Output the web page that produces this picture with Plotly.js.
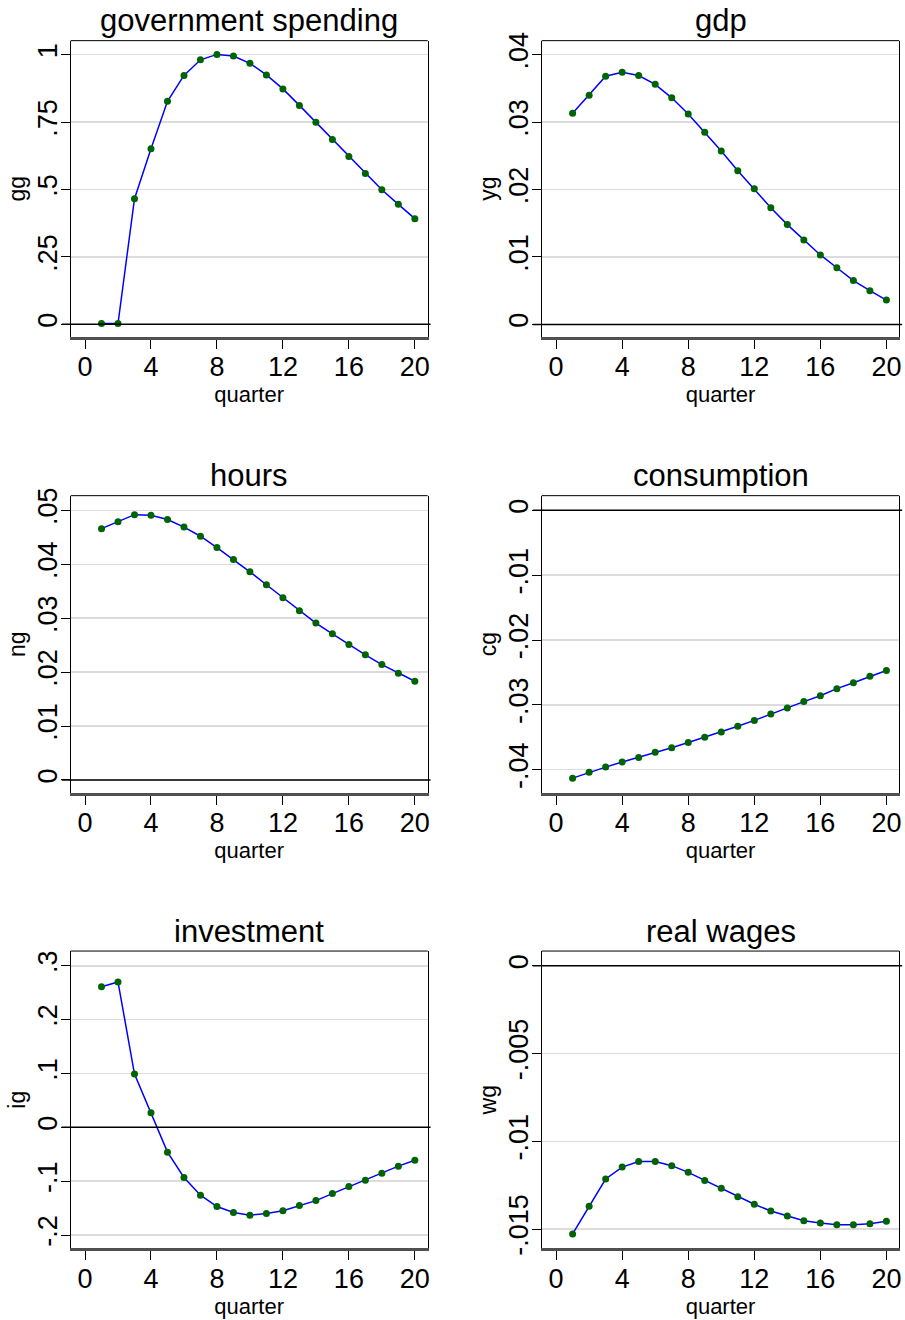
<!DOCTYPE html>
<html>
<head>
<meta charset="utf-8">
<script src="https://cdn.plot.ly/plotly-3.0.1.min.js"></script>
<style>body{margin:0;background:#fff}</style>
</head>
<body>
<div id="irf" style="width:905px;height:1320px"></div>
<script>
// impulse responses to a government spending shock, quarters 1-20
var quarter = [1,2,3,4,5,6,7,8,9,10,11,12,13,14,15,16,17,18,19,20];

var gg = [0.003,0.003,0.466,0.651,0.827,0.923,0.981,1.001,0.995,0.968,0.925,0.873,0.812,0.749,0.685,0.622,0.559,0.499,0.445,0.392];
var yg = [0.0313,0.0340,0.0368,0.0374,0.0369,0.0356,0.0336,0.0312,0.0285,0.0257,0.0228,0.0201,0.0173,0.0148,0.0125,0.0103,0.0084,0.0065,0.0050,0.0036];
var ng = [0.0466,0.0479,0.0492,0.0491,0.0483,0.0469,0.0452,0.0431,0.0409,0.0386,0.0362,0.0338,0.0314,0.0291,0.0271,0.0251,0.0232,0.0214,0.0198,0.0183];
var cg = [-0.0413,-0.0404,-0.0396,-0.0388,-0.0381,-0.0373,-0.0366,-0.0358,-0.0350,-0.0342,-0.0333,-0.0324,-0.0314,-0.0305,-0.0295,-0.0286,-0.0275,-0.0266,-0.0256,-0.0247];
var ig = [0.261,0.270,0.099,0.027,-0.046,-0.093,-0.126,-0.147,-0.158,-0.163,-0.160,-0.155,-0.145,-0.136,-0.123,-0.110,-0.098,-0.085,-0.072,-0.061];
var wg = [-0.01528,-0.01371,-0.01215,-0.01147,-0.01115,-0.01116,-0.01139,-0.01177,-0.01223,-0.01268,-0.01316,-0.01359,-0.01397,-0.01426,-0.01453,-0.01466,-0.01475,-0.01475,-0.01470,-0.01456];

var titles = ['government spending','gdp','hours','consumption','investment','real wages'];
var ynames = ['gg','yg','ng','cg','ig','wg'];
var series = [gg, yg, ng, cg, ig, wg];

var xticks = [0,4,8,12,16,20];
var yticks = [
  [0,0.25,0.5,0.75,1],
  [0,0.01,0.02,0.03,0.04],
  [0,0.01,0.02,0.03,0.04,0.05],
  [-0.04,-0.03,-0.02,-0.01,0],
  [-0.2,-0.1,0,0.1,0.2,0.3],
  [-0.015,-0.01,-0.005,0]
];
var ylabels = [
  ['0','.25','.5','.75','1'],
  ['0','.01','.02','.03','.04'],
  ['0','.01','.02','.03','.04','.05'],
  ['-.04','-.03','-.02','-.01','0'],
  ['-.2','-.1','0','.1','.2','.3'],
  ['-.015','-.01','-.005','0']
];
var yranges = [[-0.046,1.052],[-0.00183,0.04208],[-0.00235,0.05272],[-0.04354,0.00226],[-0.2246,0.3273],[-0.0161,0.000835]];

var colDom = [[0.0781,0.4726],[0.5986,0.9937]];
var rowDom = [[0.7449,0.9692],[0.3995,0.6245],[0.0543,0.2795]];

var font = 'Liberation Sans, Arial, sans-serif';
var data = [];
var layout = {
  width: 905, height: 1320,
  margin: {l:0, r:0, t:0, b:0},
  paper_bgcolor: '#ffffff',
  plot_bgcolor: '#ffffff',
  showlegend: false,
  font: {family: font, color: '#000000'},
  annotations: [],
  shapes: []
};

for (var i = 0; i < 6; i++) {
  var n = i + 1;
  var xa = 'x' + (n == 1 ? '' : n), ya = 'y' + (n == 1 ? '' : n);
  data.push({
    x: quarter, y: series[i], xaxis: xa, yaxis: ya,
    type: 'scatter', mode: 'lines+markers',
    line: {color: '#0000ff', width: 1.5},
    marker: {color: '#006400', size: 7}
  });
  layout['xaxis' + (n == 1 ? '' : n)] = {
    domain: colDom[i % 2], anchor: ya,
    range: [-0.87, 20.78],
    tickvals: xticks, ticks: 'outside', ticklen: 9, tickcolor: '#000',
    tickfont: {size: 27, family: font}, ticklabelstandoff: -5,
    showgrid: false, zeroline: false,
    showline: true, linecolor: '#505050', linewidth: 3,
    title: {text: 'quarter', font: {size: 22, family: font}, standoff: 0}
  };
  layout['yaxis' + (n == 1 ? '' : n)] = {
    domain: rowDom[Math.floor(i / 2)], anchor: xa,
    range: yranges[i],
    tickvals: yticks[i], ticktext: ylabels[i], tickangle: -90,
    ticks: 'outside', ticklen: 9, tickcolor: '#000',
    tickfont: {size: 27, family: font}, ticklabelstandoff: -7,
    showgrid: true, gridcolor: '#dcdcdc', gridwidth: 1.5, zeroline: false,
    showline: true, linecolor: '#000', linewidth: 1, mirror: true,
    title: {text: ynames[i], font: {size: 23, family: font}, standoff: 0}
  };
  // box top edge
  layout.shapes.push({type: 'line', xref: xa + ' domain', yref: ya + ' domain',
    x0: 0, x1: 1, y0: 1, y1: 1, line: {color: '#000', width: 1}});
  // zero reference line
  layout.shapes.push({type: 'line', xref: xa + ' domain', yref: ya,
    x0: -0.025, x1: 1.008, y0: 0, y1: 0, line: {color: '#000', width: 1.5}});
  layout.annotations.push({
    text: titles[i], showarrow: false,
    xref: xa + ' domain', yref: ya + ' domain', x: 0.5, y: 1,
    xanchor: 'center', yanchor: 'middle', yshift: 20,
    font: {size: 31, family: font, color: '#000'}
  });
}

Plotly.newPlot('irf', data, layout, {staticPlot: true});
</script>
</body>
</html>
